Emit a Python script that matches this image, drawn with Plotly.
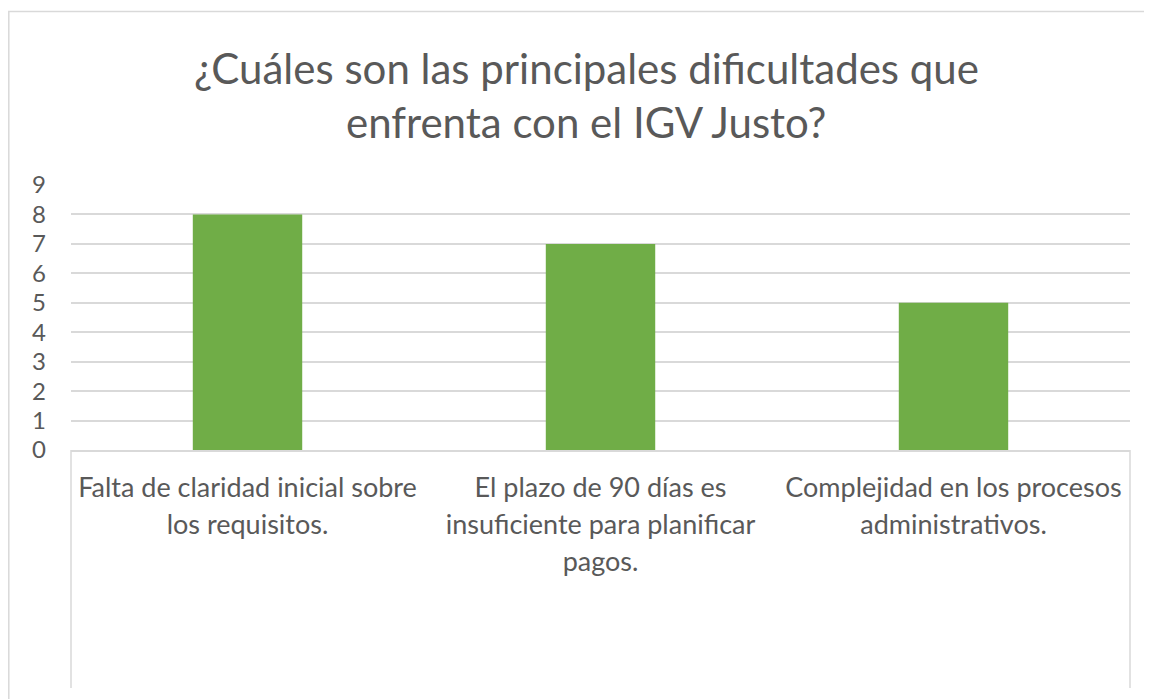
import plotly.graph_objects as go

# ---- data ----
categories = [
    "Falta de claridad inicial sobre<br>los requisitos.",
    "El plazo de 90 días es<br>insuficiente para planificar<br>pagos.",
    "Complejidad en los procesos<br>administrativos.",
]
values = [8, 7, 5]
y_ticks = [0, 1, 2, 3, 4, 5, 6, 7, 8, 9]
title_lines = ["¿Cuáles son las principales dificultades que", "enfrenta con el IGV Justo?"]

# ---- geometry (page pixels of the target; the page body adds an 8px offset) ----
OFF = 8
W, H = 1152 - OFF, 699 - OFF
PL, PR, PT, PB = 71, 1130, 185, 450          # plot area in page pixels
L, R, T, B = PL - OFF, PR - OFF, PT - OFF, PB - OFF


def px(x):
    return (x - OFF - L) / (R - L)


def py(y):
    return (B - (y - OFF)) / (B - T)


TEXT = "#595959"
GRID = "#D9D9D9"
FONT = "Lato"
CAT_SIZE = 27


def styled(label):
    return "<br>".join(
        f'<span style="font-size:{CAT_SIZE}px">{part}</span>' for part in label.split("<br>")
    )


fig = go.Figure()
fig.add_trace(go.Bar(
    x=categories, y=values, width=0.31,
    marker=dict(color="#70AD47", line=dict(width=0)),
    hoverinfo="y",
))

fig.update_layout(
    width=W, height=H,
    margin=dict(l=L, r=W - R, t=T, b=H - B, autoexpand=False),
    paper_bgcolor="white", plot_bgcolor="white",
    showlegend=False,
    font=dict(family=FONT, color=TEXT),
    xaxis=dict(
        type="category", range=[-0.5, 2.5], showgrid=False, zeroline=False,
        showline=True, linecolor=GRID, linewidth=1.5, ticks="",
        tickvals=categories, ticktext=[styled(c) for c in categories],
        tickfont=dict(family=FONT, size=28.5, color=TEXT),
        ticklabelstandoff=11, automargin=False,
    ),
    yaxis=dict(
        range=[0, 9], tickvals=y_ticks, showgrid=True, gridcolor=GRID, gridwidth=1.5,
        zeroline=False, showline=False, ticks="",
        tickfont=dict(family=FONT, size=24, color=TEXT),
        ticklabelstandoff=24, automargin=False,
    ),
)

shapes = [
    # outer chart border
    dict(type="rect", xref="paper", yref="paper", x0=px(8.8), y0=py(730), x1=px(1175), y1=py(11.5),
         line=dict(color=GRID, width=1.5), fillcolor="rgba(0,0,0,0)", layer="below"),
    # category axis box sides
    dict(type="line", xref="paper", yref="paper", x0=px(71), x1=px(71), y0=py(450), y1=py(688),
         line=dict(color=GRID, width=1.5)),
    dict(type="line", xref="paper", yref="paper", x0=px(1130), x1=px(1130), y0=py(450), y1=py(688),
         line=dict(color=GRID, width=1.5)),
]
fig.update_layout(shapes=shapes)

for txt, yc in zip(title_lines, [68, 122]):
    fig.add_annotation(
        text=txt, xref="paper", yref="paper", x=px(586), y=py(yc),
        xanchor="center", yanchor="middle", showarrow=False,
        font=dict(family=FONT, size=42, color=TEXT),
    )

fig.write_html("out.html")
